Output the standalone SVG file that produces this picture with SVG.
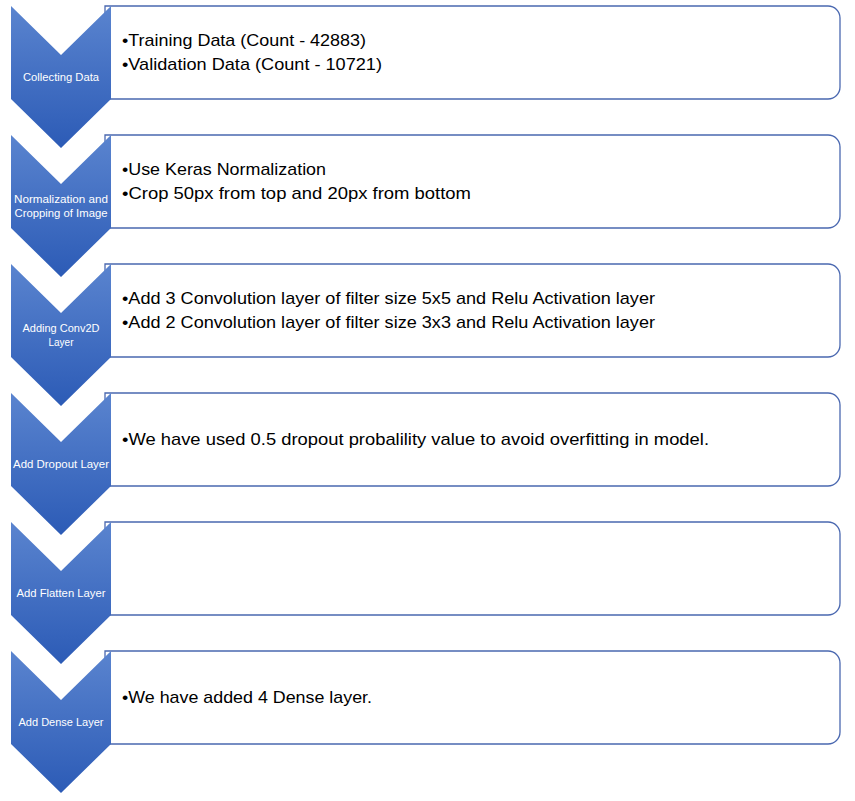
<svg xmlns="http://www.w3.org/2000/svg" width="855" height="801" viewBox="0 0 855 801">
<defs>
<linearGradient id="chev" x1="0" y1="0" x2="0" y2="1">
<stop offset="0" stop-color="#5a84cf"/>
<stop offset="1" stop-color="#2c5bb6"/>
</linearGradient>
<path id="chevShape" d="M11,6 L61,55 L111,6 L111,99 L61,148 L11,99 Z"/>
<path id="boxShape" d="M105,6 H828 A12,12 0 0 1 840,18 V87 A12,12 0 0 1 828,99 H105 Z"/>
</defs>
<style>
.box{fill:#ffffff;stroke:#4a68b0;stroke-width:1.3}
.chev{fill:url(#chev)}
.lbl{font-family:"Liberation Sans","DejaVu Sans",sans-serif;font-size:10px;fill:#ffffff;text-anchor:middle}
.txt{font-family:"Liberation Sans","DejaVu Sans",sans-serif;font-size:17px;fill:#000000}
</style>
<rect width="855" height="801" fill="#ffffff"/>
<g id="step1">
<use href="#boxShape" class="box"/>
<use href="#chevShape" class="chev"/>
<text class="lbl" x="61" y="81" textLength="76" lengthAdjust="spacingAndGlyphs">Collecting Data</text>
<text class="txt" x="122" y="46" textLength="244" lengthAdjust="spacingAndGlyphs">•Training Data (Count - 42883)</text>
<text class="txt" x="122" y="70" textLength="260" lengthAdjust="spacingAndGlyphs">•Validation Data (Count - 10721)</text>
</g>
<g id="step2" transform="translate(0,129)">
<use href="#boxShape" class="box"/>
<use href="#chevShape" class="chev"/>
<text class="lbl" x="61" y="74" textLength="94" lengthAdjust="spacingAndGlyphs">Normalization and</text>
<text class="lbl" x="61" y="88" textLength="93" lengthAdjust="spacingAndGlyphs">Cropping of Image</text>
<text class="txt" x="122" y="46" textLength="204" lengthAdjust="spacingAndGlyphs">•Use Keras Normalization</text>
<text class="txt" x="122" y="70" textLength="349" lengthAdjust="spacingAndGlyphs">•Crop 50px from top and 20px from bottom</text>
</g>
<g id="step3" transform="translate(0,258)">
<use href="#boxShape" class="box"/>
<use href="#chevShape" class="chev"/>
<text class="lbl" x="61" y="74" textLength="77" lengthAdjust="spacingAndGlyphs">Adding Conv2D</text>
<text class="lbl" x="61" y="88" textLength="25" lengthAdjust="spacingAndGlyphs">Layer</text>
<text class="txt" x="122" y="46" textLength="533" lengthAdjust="spacingAndGlyphs">•Add 3 Convolution layer of filter size 5x5 and Relu Activation layer</text>
<text class="txt" x="122" y="70" textLength="533" lengthAdjust="spacingAndGlyphs">•Add 2 Convolution layer of filter size 3x3 and Relu Activation layer</text>
</g>
<g id="step4" transform="translate(0,387)">
<use href="#boxShape" class="box"/>
<use href="#chevShape" class="chev"/>
<text class="lbl" x="61" y="81" textLength="96" lengthAdjust="spacingAndGlyphs">Add Dropout Layer</text>
<text class="txt" x="122" y="58" textLength="587" lengthAdjust="spacingAndGlyphs">•We have used 0.5 dropout probalility value to avoid overfitting in model.</text>
</g>
<g id="step5" transform="translate(0,516)">
<use href="#boxShape" class="box"/>
<use href="#chevShape" class="chev"/>
<text class="lbl" x="61" y="81" textLength="89" lengthAdjust="spacingAndGlyphs">Add Flatten Layer</text>
</g>
<g id="step6" transform="translate(0,645)">
<use href="#boxShape" class="box"/>
<use href="#chevShape" class="chev"/>
<text class="lbl" x="61" y="81" textLength="85" lengthAdjust="spacingAndGlyphs">Add Dense Layer</text>
<text class="txt" x="122" y="58" textLength="250" lengthAdjust="spacingAndGlyphs">•We have added 4 Dense layer.</text>
</g>
<g id="connectors"/>
</svg>
